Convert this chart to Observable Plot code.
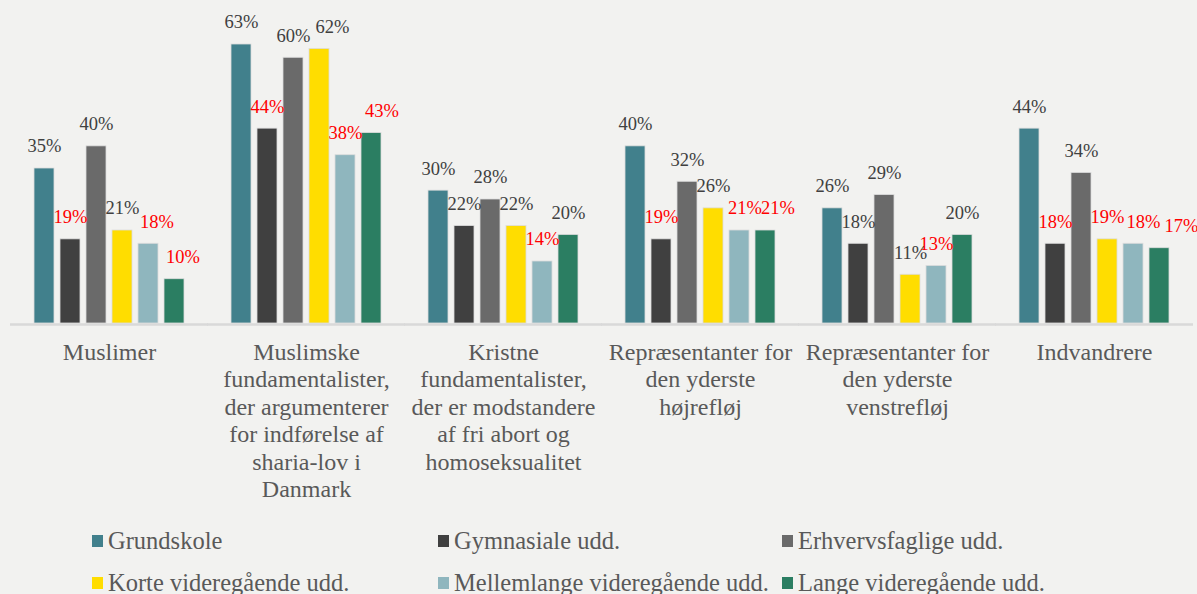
<!DOCTYPE html>
<html>
<head>
<meta charset="utf-8">
<script src="https://cdn.jsdelivr.net/npm/d3@7"></script>
<script src="https://cdn.jsdelivr.net/npm/@observablehq/plot@0.6"></script>
<style>
  html, body { margin: 0; padding: 0; background: #f2f2f0; overflow: hidden; }
  body { width: 1197px; height: 594px; font-family: 'Liberation Serif', 'Times New Roman', serif; }
  #chart svg { display: block; }
  .legend { display: grid; grid-template-columns: 346px 344px 346px; padding-left: 92px; }
  .legend .item { display: flex; align-items: center; height: 42px; font-size: 24.5px; color: #595959; white-space: nowrap; }
  .legend .sw { width: 11px; height: 12px; margin-right: 5px; flex: none; }
</style>
</head>
<body>
<div id="chart"></div>
<div class="legend" id="legend"></div>
<script>
// ---- data ----
const categories = [
  "Muslimer",
  "Muslimske fundamentalister, der argumenterer for indførelse af sharia-lov i Danmark",
  "Kristne fundamentalister, der er modstandere af fri abort og homoseksualitet",
  "Repræsentanter for den yderste højrefløj",
  "Repræsentanter for den yderste venstrefløj",
  "Indvandrere"
];
const series = [
  "Grundskole",
  "Gymnasiale udd.",
  "Erhvervsfaglige udd.",
  "Korte videregående udd.",
  "Mellemlange videregående udd.",
  "Lange videregående udd."
];
const grundskole      = [35, 63, 30, 40, 26, 44];
const gymnasiale      = [19, 44, 22, 19, 18, 18];
const erhvervsfaglige = [40, 60, 28, 32, 29, 34];
const korte           = [21, 62, 22, 26, 11, 19];
const mellemlange     = [18, 38, 14, 21, 13, 18];
const lange           = [10, 43, 20, 21, 20, 17];
// labels shown in red in the original (per category, per series)
const highlighted = [
  [0, 1, 0, 0, 1, 1],
  [0, 1, 0, 0, 1, 1],
  [0, 0, 0, 0, 1, 0],
  [0, 1, 0, 0, 1, 1],
  [0, 0, 0, 0, 1, 0],
  [0, 1, 0, 1, 1, 1]
];

// ---- presentation ----
const colors = ["#41808c", "#404040", "#6a6a6a", "#ffdd00", "#8fb6be", "#2b7e62"];
const categoryText = [
  "Muslimer",
  "Muslimske\nfundamentalister,\nder argumenterer\nfor indførelse af\nsharia-lov i\nDanmark",
  "Kristne\nfundamentalister,\nder er modstandere\naf fri abort og\nhomoseksualitet",
  "Repræsentanter for\nden yderste\nhøjrefløj",
  "Repræsentanter for\nden yderste\nvenstrefløj",
  "Indvandrere"
];
const labelNudge = [
  [0, 0, 0, 0, 8.5, 8.5],
  [0, 0, 0, 13, 0, 10.5],
  [0, 0, 0, 0, 0, 0],
  [0, 0, 0, 0, 5.5, 12.5],
  [0, 0, 0, 0, 0, 0],
  [0, 0, 0, 0, 10, 22]
];

const seriesValues = [grundskole, gymnasiale, erhvervsfaglige, korte, mellemlange, lange];
const rows = categories.flatMap((c, i) => series.map((s, j) => ({
  category: c, series: s, value: seriesValues[j][i],
  red: highlighted[i][j] === 1, nudge: labelNudge[i][j]
})));
const nudges = [...new Set(rows.map(d => d.nudge))];
const textMap = new Map(categories.map((c, i) => [c, categoryText[i]]));

const chart = Plot.plot({
  width: 1197,
  height: 520,
  marginTop: 13,
  marginBottom: 197,
  marginLeft: 10,
  marginRight: 5,
  style: { background: "#f2f2f0", fontFamily: "'Liberation Serif', 'Times New Roman', serif" },
  fx: { domain: categories, paddingInner: 0.178, paddingOuter: 0.089, axis: null, label: null },
  x: { domain: series, padding: 0.23, axis: null, label: null },
  y: { domain: [0, 70], axis: null },
  color: { domain: series, range: colors },
  marks: [
    Plot.barY(rows, { fx: "category", x: "series", y: "value", fill: "series", stroke: "#dcdcdc", strokeWidth: 0.8 }),
    Plot.ruleY([0], { stroke: "#d9d9d9", strokeWidth: 2.5, dy: 1, insetLeft: -18, insetRight: -18 }),
    ...nudges.map(n => Plot.text(rows.filter(d => d.nudge === n), {
      fx: "category", x: "series", y: "value",
      text: d => d.value + "%",
      fill: d => d.red ? "#ff0000" : "#404040",
      dy: -22, dx: n, fontSize: 18.5
    })),
    Plot.text(categories, {
      fx: d => d, text: d => textMap.get(d),
      frameAnchor: "bottom", lineAnchor: "top", dy: 16.5,
      fontSize: 24, lineHeight: 1.146, fill: "#595959"
    })
  ]
});
document.getElementById("chart").appendChild(chart);

const legend = document.getElementById("legend");
series.forEach((s, i) => {
  const item = document.createElement("div");
  item.className = "item";
  const sw = document.createElement("span");
  sw.className = "sw";
  sw.style.background = colors[i];
  const t = document.createElement("span");
  t.textContent = s;
  item.appendChild(sw);
  item.appendChild(t);
  legend.appendChild(item);
});
</script>
</body>
</html>
